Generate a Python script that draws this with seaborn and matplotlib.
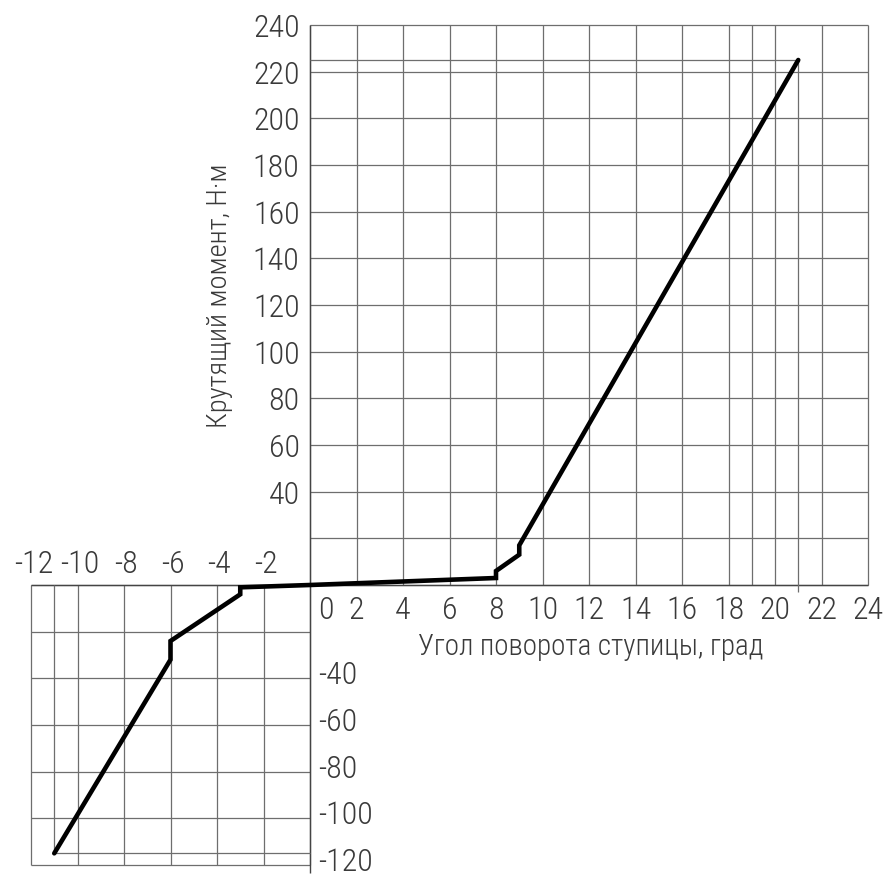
import numpy as np
import seaborn as sns
import matplotlib.pyplot as plt

# Данные: угол поворота ступицы (град) и крутящий момент (Н·м)
angle = [-11, -6, -6, -3, -3, 0, 8, 8, 9, 9, 21]
torque = [-115, -32, -24, -4, -1, 0, 3, 6, 13, 17, 225]

# Подписи делений
x_pos_ticks = [0, 2, 4, 6, 8, 10, 12, 14, 16, 18, 20, 22, 24]
x_neg_ticks = [-12, -10, -8, -6, -4, -2]
y_pos_ticks = [40, 60, 80, 100, 120, 140, 160, 180, 200, 220, 240]
y_neg_ticks = [-40, -60, -80, -100, -120]

# Линии сетки
grid_x_up = [0, 2, 4, 6, 8, 10, 12, 14, 16, 18, 19, 20, 22, 24]
grid_y_up = [0, 20, 40, 60, 80, 100, 120, 140, 160, 180, 200, 220, 240]
grid_x_low = [-12, -10, -8, -6, -4, -2, 0]
grid_y_low = [-120, -100, -80, -60, -40, -20, 0]

x_title = 'Угол поворота ступицы, град'
y_title = 'Крутящий момент, Н·м'

sns.set_style('white')
plt.rcParams['font.family'] = ['Roboto Condensed', 'Roboto', 'DejaVu Sans']
plt.rcParams['font.weight'] = 'light'

fig = plt.figure(figsize=(8.85, 8.74), dpi=100)
ax = fig.add_axes([0, 0, 1, 1])
ax.set_xlim(-310 / 23.25, (885 - 310) / 23.25)
ax.set_ylim(-(874 - 585) / (7 / 3), 585 / (7 / 3))
ax.axis('off')

gc = '#6e6e6e'
glw = 0.9
# сетка верхнего квадранта
ax.vlines(grid_x_up, 0, max(grid_y_up), color=gc, lw=glw)
ax.hlines(grid_y_up, 0, max(grid_x_up), color=gc, lw=glw)
# сетка нижнего квадранта
ax.vlines(grid_x_low, min(grid_y_low), 0, color=gc, lw=glw)
ax.hlines(grid_y_low, min(grid_x_low), 0, color=gc, lw=glw)
# оси
ax.hlines(0, min(grid_x_low), max(grid_x_up), color='#444444', lw=1.0)
ax.vlines(0, -123.5, max(grid_y_up), color='#444444', lw=1.0)
# проекции крайних точек
ax.hlines(torque[-1], 0, angle[-1], color=gc, lw=glw)
ax.vlines(angle[-1], -3, torque[-1], color=gc, lw=glw)
ax.hlines(torque[0], angle[0], 0, color=gc, lw=glw)
ax.vlines(angle[0], torque[0], 0, color=gc, lw=glw)

sns.lineplot(x=angle, y=torque, sort=False, estimator=None, color='black',
             lw=3.3, ax=ax, solid_joinstyle='miter')

tc = '#3a3a3a'
fs = 23
for v in x_pos_ticks:
    xx = 0.7 if v == 0 else v
    ax.text(xx, -11, str(v), ha='center', va='center', fontsize=fs, color=tc)
for v in x_neg_ticks:
    ax.text(v + 0.1, 8.6, '-' + str(-v), ha='center', va='center',
            fontsize=fs, color=tc)
for v in y_pos_ticks:
    ax.text(-0.45, v - 1.5, str(v), ha='right', va='center', fontsize=fs, color=tc)
for v in y_neg_ticks:
    ax.text(0.35, v + 1, '-' + str(-v), ha='left', va='center', fontsize=fs, color=tc)

ax.text(4.65, -26.5, x_title, ha='left', va='center', fontsize=21, color=tc)
ax.text(-3.9, (585 - 296) / (7 / 3), y_title, ha='center', va='center',
        rotation=90, fontsize=20.5, color=tc)

plt.savefig('out.png', dpi=100)
plt.close()
